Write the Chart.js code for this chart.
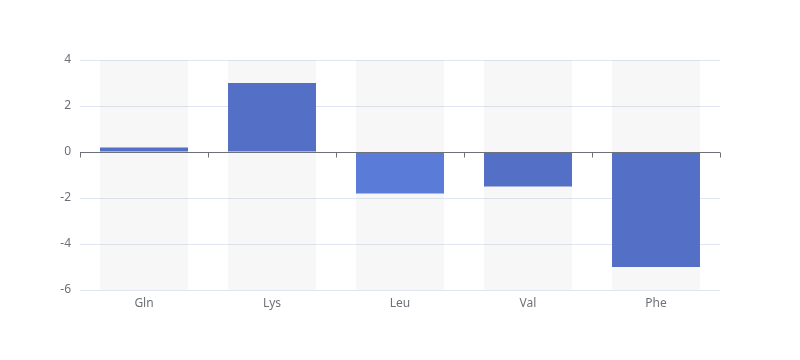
<!DOCTYPE html>
<html>
<head>
<meta charset="utf-8">
<script src="https://cdn.jsdelivr.net/npm/chart.js@4/dist/chart.umd.min.js"></script>
<style>
  html, body { margin: 0; padding: 0; background: #fff; }
</style>
</head>
<body>
<canvas id="myChart" width="800" height="360"></canvas>
<script>
var residues = ["Gln", "Lys", "Leu", "Val", "Phe"];
var changeValues = [0.2, 3.0, -1.8, -1.5, -5.0];
var barColors = ["#5470c6", "#5470c6", "#5b7bd9", "#5470c6", "#5470c6"];
var yMin = -6;
var yMax = 4;
var yStep = 2;

// grey band behind each bar, full axis height
var bandValues = residues.map(function () { return [yMin, yMax]; });

var zeroAxis = {
    id: "zeroAxis",
    afterDatasetsDraw: function (chart) {
        var ctx = chart.ctx;
        var x = chart.scales.x;
        var y0 = Math.round(chart.scales.y.getPixelForValue(0)) + 0.5;
        var area = chart.chartArea;
        ctx.save();
        ctx.strokeStyle = "#6e7079";
        ctx.lineWidth = 1;
        ctx.beginPath();
        ctx.moveTo(area.left, y0);
        ctx.lineTo(area.right, y0);
        var half = (x.getPixelForTick(1) - x.getPixelForTick(0)) / 2;
        for (var i = 0; i <= residues.length; i++) {
            var px = Math.round(x.getPixelForTick(Math.min(i, residues.length - 1)) + (i < residues.length ? -half : half)) + 0.5;
            ctx.moveTo(px, y0);
            ctx.lineTo(px, y0 + 5);
        }
        ctx.stroke();
        ctx.restore();
    }
};

new Chart("myChart", {
    type: "bar",
    data: {
        labels: residues,
        datasets: [{
            data: changeValues,
            backgroundColor: barColors,
            borderWidth: 0,
            barPercentage: 0.6875,
            categoryPercentage: 1,
            grouped: false,
            order: 1
        }, {
            data: bandValues,
            backgroundColor: "rgba(180,180,180,0.1)",
            borderWidth: 0,
            barPercentage: 0.6875,
            categoryPercentage: 1,
            grouped: false,
            order: 2
        }]
    },
    plugins: [zeroAxis],
    options: {
        responsive: false,
        animation: false,
        events: [],
        layout: { padding: { top: 60, right: 80, left: 0, bottom: 0 } },
        plugins: {
            legend: { display: false },
            tooltip: { enabled: false }
        },
        scales: {
            x: {
                grid: { display: false, drawTicks: false },
                border: { display: false },
                ticks: {
                    color: "#6e7079",
                    font: { family: "'Noto Sans', sans-serif", size: 12 },
                    padding: 6
                },
                afterFit: function (s) { s.height = 70; }
            },
            y: {
                min: yMin,
                max: yMax,
                grid: { color: "#e0e6f1", drawTicks: false },
                border: { display: false },
                ticks: {
                    stepSize: yStep,
                    color: "#6e7079",
                    font: { family: "'Noto Sans', sans-serif", size: 12 },
                    padding: 9
                },
                afterFit: function (s) { s.width = 80; }
            }
        }
    }
});
</script>
</body>
</html>
